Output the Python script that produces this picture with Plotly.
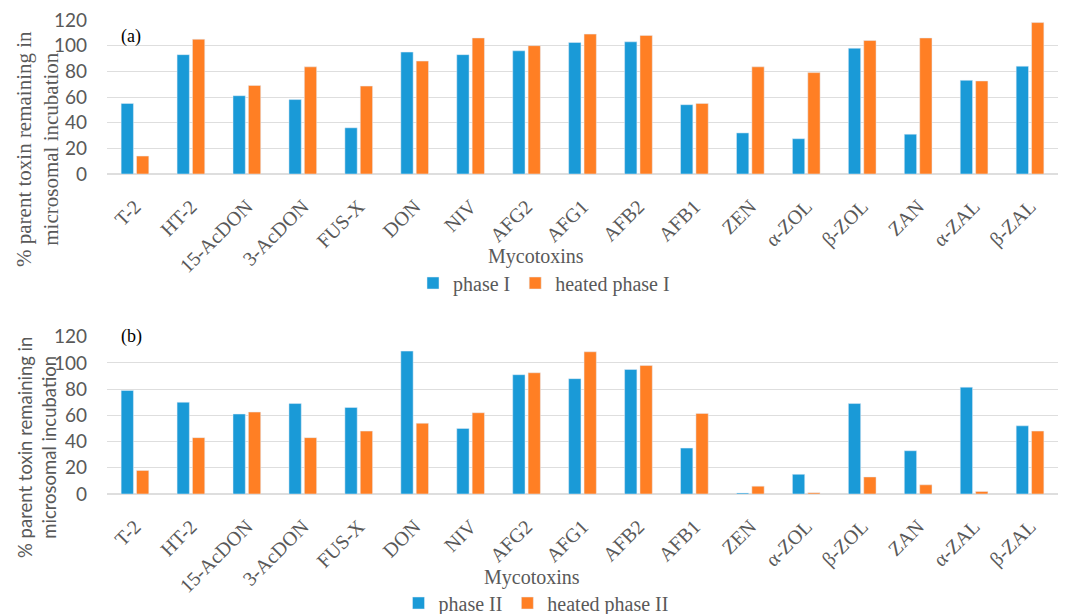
import plotly.graph_objects as go

categories = ["T-2", "HT-2", "15-AcDON", "3-AcDON", "FUS-X", "DON", "NIV", "AFG2", "AFG1",
              "AFB2", "AFB1", "ZEN", "α-ZOL", "β-ZOL", "ZAN", "α-ZAL", "β-ZAL"]

phase1 = [55, 93, 61, 58, 36, 95, 93, 96, 102.5, 103, 54, 32, 27.5, 98, 31, 73, 84]
heated_phase1 = [14, 105, 69, 83.5, 68.5, 88, 106, 100, 109, 108, 55, 83.5, 79, 104, 106, 72.5, 118]

phase2 = [79, 70, 61, 69, 66, 109, 50, 91, 88, 95, 35, 0.8, 15, 69, 33, 81.5, 52]
heated_phase2 = [18, 43, 62.5, 43, 48, 54, 62, 92.5, 108.5, 98, 61.5, 6, 1, 13, 7, 2, 48]

y_ticks = [0, 20, 40, 60, 80, 100, 120]

BLUE = "#1a9ad7"
ORANGE = "#ff7f24"
GRAY = "#595959"
GRID = "#dedede"
SERIF = "Liberation Serif"
SANS = "Lato"

W, H = 1066, 614
ML, MR, MT, MB = 107, 8, 20, 120
PW, PH = W - ML - MR, H - MT - MB


def px_x(p):
    return (p - ML) / PW


def px_y(p):
    return (H - MB - p) / PH


fig = go.Figure()
fig.add_trace(go.Bar(x=categories, y=phase1, name="phase I", marker_color=BLUE,
                     xaxis="x", yaxis="y", legend="legend"))
fig.add_trace(go.Bar(x=categories, y=heated_phase1, name="heated phase I", marker_color=ORANGE,
                     xaxis="x", yaxis="y", legend="legend"))
fig.add_trace(go.Bar(x=categories, y=phase2, name="phase II", marker_color=BLUE,
                     xaxis="x2", yaxis="y2", legend="legend2"))
fig.add_trace(go.Bar(x=categories, y=heated_phase2, name="heated phase II", marker_color=ORANGE,
                     xaxis="x2", yaxis="y2", legend="legend2"))

xa = dict(type="category", showline=True, linecolor=GRID, linewidth=1, ticks="",
          tickangle=-45, tickfont=dict(family=SERIF, size=20, color=GRAY),
          ticklabelstandoff=12, showgrid=False)
ya = dict(range=[0, 120], tickvals=y_ticks, showgrid=True, gridcolor=GRID, gridwidth=1,
          zeroline=True, zerolinecolor=GRID, ticks="", showline=False,
          tickfont=dict(family=SANS, size=19, color=GRAY), ticklabelstandoff=19)

fig.update_layout(
    width=W, height=H,
    margin=dict(l=ML, r=MR, t=MT, b=MB, autoexpand=False),
    paper_bgcolor="white", plot_bgcolor="white",
    barmode="group", bargap=0.45, bargroupgap=0.2,
    xaxis=dict(xa, domain=[0, 1], anchor="y"),
    yaxis=dict(ya, domain=[px_y(174), 1], anchor="x"),
    xaxis2=dict(xa, domain=[0, 1], anchor="y2"),
    yaxis2=dict(ya, domain=[0, px_y(336.7)], anchor="x2"),
    legend=dict(orientation="h", x=px_x(544), xanchor="center", y=px_y(283), yanchor="middle",
                font=dict(family=SERIF, size=20, color=GRAY), bgcolor="rgba(0,0,0,0)"),
    legend2=dict(orientation="h", x=px_x(536), xanchor="center", y=px_y(603), yanchor="middle",
                 font=dict(family=SERIF, size=20, color=GRAY), bgcolor="rgba(0,0,0,0)"),
    showlegend=True,
)

annotations = [
    dict(text="(a)", x=px_x(131), y=px_y(36), font=dict(family=SERIF, size=18, color="black")),
    dict(text="(b)", x=px_x(131), y=px_y(336), font=dict(family=SERIF, size=18, color="black")),
    dict(text="Mycotoxins", x=px_x(536), y=px_y(256), font=dict(family=SERIF, size=20, color=GRAY)),
    dict(text="Mycotoxins", x=px_x(532), y=px_y(577), font=dict(family=SERIF, size=20, color=GRAY)),
    dict(text="% parent toxin remaining in<br>microsomal incubation", x=px_x(37), y=px_y(149),
         textangle=-90, font=dict(family=SERIF, size=21, color=GRAY)),
    dict(text="% parent toxin remaining in<br>microsomal incubation", x=px_x(37), y=px_y(448),
         textangle=-90, font=dict(family=SANS, size=18.5, color=GRAY)),
]
for a in annotations:
    a.update(xref="paper", yref="paper", showarrow=False, xanchor="center", yanchor="middle")
fig.update_layout(annotations=annotations)

fig.write_html("out.html")
